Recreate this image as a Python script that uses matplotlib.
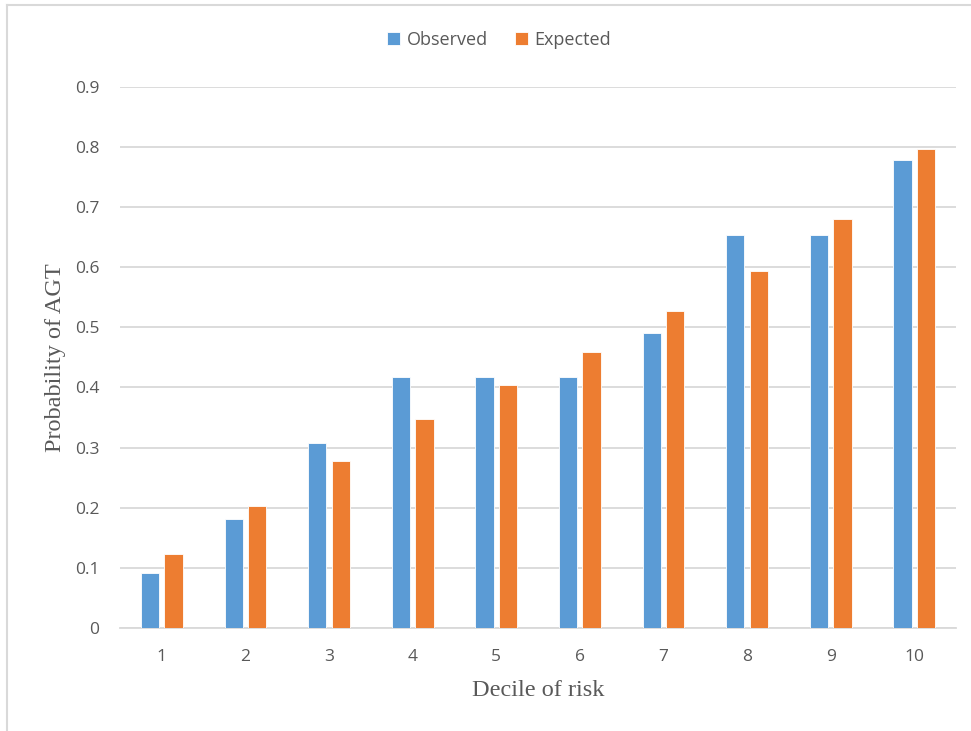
import matplotlib
matplotlib.use("Agg")
import matplotlib.pyplot as plt
import numpy as np
from matplotlib.lines import Line2D

# decile of risk vs probability of AGT
deciles = ["1", "2", "3", "4", "5", "6", "7", "8", "9", "10"]
observed = [0.091, 0.181, 0.308, 0.418, 0.418, 0.418, 0.490, 0.654, 0.654, 0.778]
expected = [0.123, 0.202, 0.278, 0.347, 0.404, 0.459, 0.527, 0.594, 0.680, 0.797]
yticks = [0, 0.1, 0.2, 0.3, 0.4, 0.5, 0.6, 0.7, 0.8, 0.9]
ytick_labels = ["0", "0.1", "0.2", "0.3", "0.4", "0.5", "0.6", "0.7", "0.8", "0.9"]

blue = "#5B9BD5"
orange = "#ED7D31"
grid = "#D9D9D9"
text = "#595959"

fig = plt.figure(figsize=(9.71, 7.31), dpi=100)
ax = fig.add_axes([120 / 971, 1 - 627.7 / 731, 836 / 971, (627.7 - 87.1) / 731])

x = np.arange(len(deciles))
w = 0.22
ax.bar(x - 0.14, observed, w, color=blue, edgecolor="white", linewidth=0.6,
       label="Observed", zorder=3)
ax.bar(x + 0.14, expected, w, color=orange, edgecolor="white", linewidth=0.6,
       label="Expected", zorder=3)

ax.set_xlim(-0.5, len(deciles) - 0.5)
ax.set_ylim(0, 0.9)
ax.set_yticks(yticks)
ax.set_yticklabels(ytick_labels)
ax.set_xticks(x)
ax.set_xticklabels(deciles)
ax.yaxis.grid(True, color=grid, linewidth=1.3, zorder=0)
for s in ["top", "right", "left"]:
    ax.spines[s].set_visible(False)
ax.spines["bottom"].set_color(grid)
ax.spines["bottom"].set_linewidth(1.3)
ax.tick_params(length=0, labelcolor=text, labelsize=12.5)
ax.tick_params(axis="y", pad=15)
ax.tick_params(axis="x", pad=15)
for lab in ax.get_xticklabels() + ax.get_yticklabels():
    lab.set_family("Open Sans")

ax.set_ylabel("Probability of AGT", family="Liberation Serif", fontsize=17.5,
              color=text, labelpad=6)
ax.set_xlabel("Decile of risk", family="Liberation Serif", fontsize=17.5,
              color=text, labelpad=11)

fig.legend(loc="center", bbox_to_anchor=(499 / 971, 1 - 40 / 731), ncol=2,
           frameon=False, prop={"family": "Open Sans", "size": 13},
           handlelength=0.75, handleheight=0.75, handletextpad=0.35,
           columnspacing=1.5, labelcolor=text)

# chart border (top and left edges)
fig.add_artist(Line2D([7 / 971, 1], [1 - 5 / 731, 1 - 5 / 731],
                      color=grid, linewidth=1.5))
fig.add_artist(Line2D([7 / 971, 7 / 971], [0, 1 - 5 / 731],
                      color=grid, linewidth=1.5))

fig.savefig("out.png", dpi=100, facecolor="white")
